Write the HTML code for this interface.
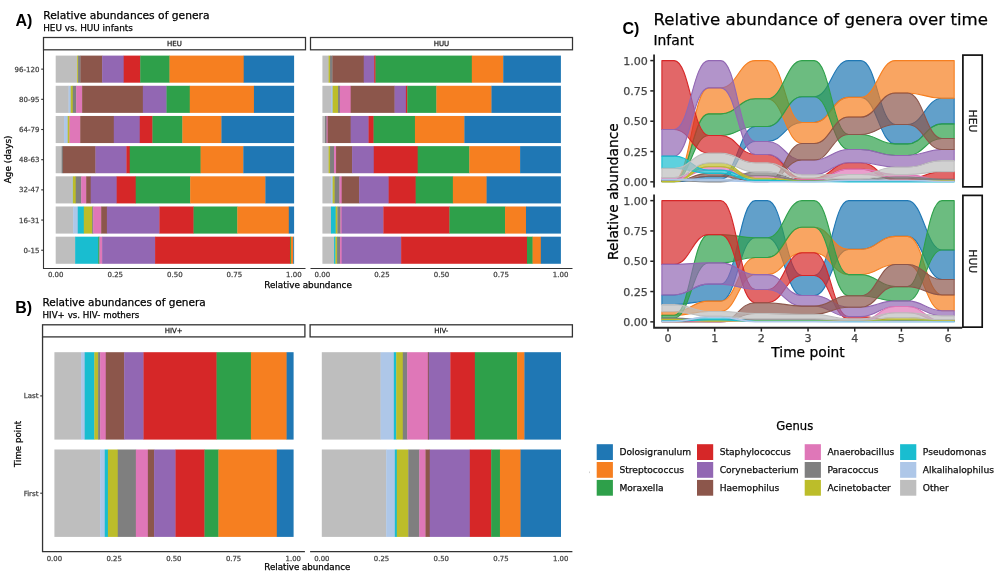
<!DOCTYPE html>
<html lang="en">
<head>
<meta charset="utf-8">
<title>Relative abundances of genera</title>
<style>
html,body{margin:0;padding:0;background:#fff;}
body{width:1000px;height:578px;overflow:hidden;}
svg{display:block;font-family:"DejaVu Sans", "Liberation Sans", sans-serif;will-change:transform;}
svg text{font-family:"DejaVu Sans", "Liberation Sans", sans-serif;}
</style>
</head>
<body>
<svg width="1000" height="578" viewBox="0 0 1000 578">
<rect x="0" y="0" width="1000" height="578" fill="#ffffff"/>
<g id="panelA">
<text x="15.4" y="25.5" font-size="16" text-anchor="start" font-weight="bold" fill="#000" style="font-family:&quot;Liberation Sans&quot;, Arial, Helvetica, sans-serif">A)</text>
<text x="43.2" y="18.7" font-size="10.7" text-anchor="start" font-weight="normal" fill="#000" stroke="#000" stroke-width="0.25">Relative abundances of genera</text>
<text x="43.2" y="31.0" font-size="8.85" text-anchor="start" font-weight="normal" fill="#000" stroke="#000" stroke-width="0.25">HEU vs. HUU infants</text>
<rect x="43.5" y="37.5" width="262.00" height="12.30" fill="#fff" stroke="#333333" stroke-width="1.25"/>
<text x="174.5" y="46.17" font-size="7.0" text-anchor="middle" font-weight="normal" fill="#1a1a1a" stroke="#1a1a1a" stroke-width="0.25">HEU</text>
<rect x="310.5" y="37.5" width="262.00" height="12.30" fill="#fff" stroke="#333333" stroke-width="1.25"/>
<text x="441.5" y="46.17" font-size="7.0" text-anchor="middle" font-weight="normal" fill="#1a1a1a" stroke="#1a1a1a" stroke-width="0.25">HUU</text>
<path d="M43.5 49.8V268.5H305.5M310.5 268.5H572.5" fill="none" stroke="#333333" stroke-width="1.1"/>
<rect x="55.70" y="55.60" width="21.73" height="27.10" fill="#bebebe"/>
<rect x="77.13" y="55.60" width="1.25" height="27.10" fill="#bcbd2a"/>
<rect x="78.08" y="55.60" width="2.68" height="27.10" fill="#7f7f7f"/>
<rect x="80.46" y="55.60" width="21.97" height="27.10" fill="#8c564b"/>
<rect x="102.13" y="55.60" width="21.85" height="27.10" fill="#9267b3"/>
<rect x="123.68" y="55.60" width="16.85" height="27.10" fill="#d62728"/>
<rect x="140.23" y="55.60" width="29.59" height="27.10" fill="#2ea04a"/>
<rect x="169.51" y="55.60" width="74.49" height="27.10" fill="#f67f20"/>
<rect x="243.70" y="55.60" width="50.40" height="27.10" fill="#1f77b4"/>
<rect x="55.70" y="85.78" width="13.16" height="27.10" fill="#bebebe"/>
<rect x="68.56" y="85.78" width="2.44" height="27.10" fill="#aec7e8"/>
<rect x="70.70" y="85.78" width="2.35" height="27.10" fill="#bcbd2a"/>
<rect x="72.75" y="85.78" width="3.73" height="27.10" fill="#7f7f7f"/>
<rect x="76.18" y="85.78" width="6.25" height="27.10" fill="#df77b8"/>
<rect x="82.13" y="85.78" width="61.02" height="27.10" fill="#8c564b"/>
<rect x="142.84" y="85.78" width="23.97" height="27.10" fill="#9267b3"/>
<rect x="166.51" y="85.78" width="23.54" height="27.10" fill="#2ea04a"/>
<rect x="189.75" y="85.78" width="64.49" height="27.10" fill="#f67f20"/>
<rect x="253.94" y="85.78" width="40.16" height="27.10" fill="#1f77b4"/>
<rect x="55.70" y="115.96" width="8.63" height="27.10" fill="#bebebe"/>
<rect x="64.03" y="115.96" width="3.99" height="27.10" fill="#aec7e8"/>
<rect x="67.72" y="115.96" width="2.09" height="27.10" fill="#bcbd2a"/>
<rect x="69.51" y="115.96" width="11.01" height="27.10" fill="#df77b8"/>
<rect x="80.22" y="115.96" width="33.87" height="27.10" fill="#8c564b"/>
<rect x="113.80" y="115.96" width="26.25" height="27.10" fill="#9267b3"/>
<rect x="139.75" y="115.96" width="13.01" height="27.10" fill="#d62728"/>
<rect x="152.46" y="115.96" width="30.21" height="27.10" fill="#2ea04a"/>
<rect x="182.37" y="115.96" width="39.35" height="27.10" fill="#f67f20"/>
<rect x="221.42" y="115.96" width="72.68" height="27.10" fill="#1f77b4"/>
<rect x="55.70" y="146.14" width="6.25" height="27.10" fill="#bebebe"/>
<rect x="61.65" y="146.14" width="1.49" height="27.10" fill="#7f7f7f"/>
<rect x="62.84" y="146.14" width="32.92" height="27.10" fill="#8c564b"/>
<rect x="95.46" y="146.14" width="31.25" height="27.10" fill="#9267b3"/>
<rect x="126.42" y="146.14" width="3.63" height="27.10" fill="#d62728"/>
<rect x="129.75" y="146.14" width="71.16" height="27.10" fill="#2ea04a"/>
<rect x="200.61" y="146.14" width="43.02" height="27.10" fill="#f67f20"/>
<rect x="243.32" y="146.14" width="50.78" height="27.10" fill="#1f77b4"/>
<rect x="55.70" y="176.32" width="16.35" height="27.10" fill="#bebebe"/>
<rect x="71.75" y="176.32" width="1.30" height="27.10" fill="#aec7e8"/>
<rect x="72.75" y="176.32" width="3.25" height="27.10" fill="#bcbd2a"/>
<rect x="75.70" y="176.32" width="5.78" height="27.10" fill="#7f7f7f"/>
<rect x="81.18" y="176.32" width="5.30" height="27.10" fill="#df77b8"/>
<rect x="86.18" y="176.32" width="4.82" height="27.10" fill="#8c564b"/>
<rect x="90.70" y="176.32" width="26.25" height="27.10" fill="#9267b3"/>
<rect x="116.65" y="176.32" width="19.35" height="27.10" fill="#d62728"/>
<rect x="135.70" y="176.32" width="54.78" height="27.10" fill="#2ea04a"/>
<rect x="190.18" y="176.32" width="75.49" height="27.10" fill="#f67f20"/>
<rect x="265.37" y="176.32" width="28.73" height="27.10" fill="#1f77b4"/>
<rect x="55.70" y="206.50" width="17.75" height="27.10" fill="#bebebe"/>
<rect x="73.15" y="206.50" width="4.90" height="27.10" fill="#aec7e8"/>
<rect x="77.75" y="206.50" width="6.35" height="27.10" fill="#19bdd0"/>
<rect x="83.80" y="206.50" width="8.63" height="27.10" fill="#bcbd2a"/>
<rect x="92.13" y="206.50" width="1.37" height="27.10" fill="#7f7f7f"/>
<rect x="93.20" y="206.50" width="8.28" height="27.10" fill="#df77b8"/>
<rect x="101.18" y="206.50" width="6.01" height="27.10" fill="#8c564b"/>
<rect x="106.89" y="206.50" width="52.80" height="27.10" fill="#9267b3"/>
<rect x="159.39" y="206.50" width="34.47" height="27.10" fill="#d62728"/>
<rect x="193.56" y="206.50" width="44.04" height="27.10" fill="#2ea04a"/>
<rect x="237.30" y="206.50" width="51.80" height="27.10" fill="#f67f20"/>
<rect x="288.80" y="206.50" width="5.30" height="27.10" fill="#1f77b4"/>
<rect x="55.70" y="236.68" width="19.75" height="27.10" fill="#bebebe"/>
<rect x="75.15" y="236.68" width="23.35" height="27.10" fill="#19bdd0"/>
<rect x="98.20" y="236.68" width="1.51" height="27.10" fill="#2ea04a"/>
<rect x="99.42" y="236.68" width="3.01" height="27.10" fill="#df77b8"/>
<rect x="102.13" y="236.68" width="53.25" height="27.10" fill="#9267b3"/>
<rect x="155.08" y="236.68" width="135.21" height="27.10" fill="#d62728"/>
<rect x="289.99" y="236.68" width="1.13" height="27.10" fill="#2ea04a"/>
<rect x="290.82" y="236.68" width="2.70" height="27.10" fill="#f67f20"/>
<rect x="293.23" y="236.68" width="0.87" height="27.10" fill="#1f77b4"/>
<rect x="322.40" y="55.60" width="6.49" height="27.10" fill="#bebebe"/>
<rect x="328.59" y="55.60" width="1.73" height="27.10" fill="#bcbd2a"/>
<rect x="330.02" y="55.60" width="2.68" height="27.10" fill="#7f7f7f"/>
<rect x="332.40" y="55.60" width="31.62" height="27.10" fill="#8c564b"/>
<rect x="363.73" y="55.60" width="10.73" height="27.10" fill="#9267b3"/>
<rect x="374.16" y="55.60" width="1.66" height="27.10" fill="#d62728"/>
<rect x="375.52" y="55.60" width="96.60" height="27.10" fill="#2ea04a"/>
<rect x="471.82" y="55.60" width="31.72" height="27.10" fill="#f67f20"/>
<rect x="503.24" y="55.60" width="57.66" height="27.10" fill="#1f77b4"/>
<rect x="322.40" y="85.78" width="8.88" height="27.10" fill="#bebebe"/>
<rect x="330.98" y="85.78" width="1.97" height="27.10" fill="#aec7e8"/>
<rect x="332.64" y="85.78" width="5.71" height="27.10" fill="#bcbd2a"/>
<rect x="338.05" y="85.78" width="2.11" height="27.10" fill="#7f7f7f"/>
<rect x="339.86" y="85.78" width="11.11" height="27.10" fill="#df77b8"/>
<rect x="350.67" y="85.78" width="44.20" height="27.10" fill="#8c564b"/>
<rect x="394.57" y="85.78" width="11.61" height="27.10" fill="#9267b3"/>
<rect x="405.89" y="85.78" width="1.73" height="27.10" fill="#d62728"/>
<rect x="407.32" y="85.78" width="29.36" height="27.10" fill="#2ea04a"/>
<rect x="436.38" y="85.78" width="55.40" height="27.10" fill="#f67f20"/>
<rect x="491.47" y="85.78" width="69.43" height="27.10" fill="#1f77b4"/>
<rect x="322.40" y="115.96" width="2.92" height="27.10" fill="#bebebe"/>
<rect x="325.02" y="115.96" width="1.90" height="27.10" fill="#7f7f7f"/>
<rect x="326.62" y="115.96" width="1.32" height="27.10" fill="#df77b8"/>
<rect x="327.64" y="115.96" width="23.33" height="27.10" fill="#8c564b"/>
<rect x="350.67" y="115.96" width="18.17" height="27.10" fill="#9267b3"/>
<rect x="368.54" y="115.96" width="5.33" height="27.10" fill="#d62728"/>
<rect x="373.57" y="115.96" width="41.68" height="27.10" fill="#2ea04a"/>
<rect x="414.94" y="115.96" width="49.73" height="27.10" fill="#f67f20"/>
<rect x="464.37" y="115.96" width="96.53" height="27.10" fill="#1f77b4"/>
<rect x="322.40" y="146.14" width="6.49" height="27.10" fill="#bebebe"/>
<rect x="328.59" y="146.14" width="1.73" height="27.10" fill="#bcbd2a"/>
<rect x="330.02" y="146.14" width="4.30" height="27.10" fill="#7f7f7f"/>
<rect x="334.02" y="146.14" width="2.32" height="27.10" fill="#df77b8"/>
<rect x="336.05" y="146.14" width="16.33" height="27.10" fill="#8c564b"/>
<rect x="352.08" y="146.14" width="21.98" height="27.10" fill="#9267b3"/>
<rect x="373.76" y="146.14" width="44.22" height="27.10" fill="#d62728"/>
<rect x="417.68" y="146.14" width="51.94" height="27.10" fill="#2ea04a"/>
<rect x="469.32" y="146.14" width="51.08" height="27.10" fill="#f67f20"/>
<rect x="520.11" y="146.14" width="40.79" height="27.10" fill="#1f77b4"/>
<rect x="322.40" y="176.32" width="8.88" height="27.10" fill="#bebebe"/>
<rect x="330.98" y="176.32" width="1.97" height="27.10" fill="#aec7e8"/>
<rect x="332.64" y="176.32" width="2.30" height="27.10" fill="#bcbd2a"/>
<rect x="334.64" y="176.32" width="5.11" height="27.10" fill="#7f7f7f"/>
<rect x="339.46" y="176.32" width="2.54" height="27.10" fill="#df77b8"/>
<rect x="341.69" y="176.32" width="17.69" height="27.10" fill="#8c564b"/>
<rect x="359.08" y="176.32" width="29.84" height="27.10" fill="#9267b3"/>
<rect x="388.62" y="176.32" width="27.34" height="27.10" fill="#d62728"/>
<rect x="415.66" y="176.32" width="37.51" height="27.10" fill="#2ea04a"/>
<rect x="452.86" y="176.32" width="34.03" height="27.10" fill="#f67f20"/>
<rect x="486.59" y="176.32" width="74.31" height="27.10" fill="#1f77b4"/>
<rect x="322.40" y="206.50" width="8.88" height="27.10" fill="#bebebe"/>
<rect x="330.98" y="206.50" width="4.97" height="27.10" fill="#19bdd0"/>
<rect x="335.64" y="206.50" width="2.06" height="27.10" fill="#bcbd2a"/>
<rect x="337.41" y="206.50" width="3.35" height="27.10" fill="#7f7f7f"/>
<rect x="340.46" y="206.50" width="1.54" height="27.10" fill="#df77b8"/>
<rect x="341.69" y="206.50" width="41.98" height="27.10" fill="#9267b3"/>
<rect x="383.38" y="206.50" width="66.38" height="27.10" fill="#d62728"/>
<rect x="449.46" y="206.50" width="55.87" height="27.10" fill="#2ea04a"/>
<rect x="505.03" y="206.50" width="21.24" height="27.10" fill="#f67f20"/>
<rect x="525.97" y="206.50" width="34.93" height="27.10" fill="#1f77b4"/>
<rect x="322.40" y="236.68" width="11.97" height="27.10" fill="#bebebe"/>
<rect x="334.07" y="236.68" width="1.66" height="27.10" fill="#19bdd0"/>
<rect x="335.43" y="236.68" width="1.92" height="27.10" fill="#bcbd2a"/>
<rect x="337.05" y="236.68" width="3.28" height="27.10" fill="#7f7f7f"/>
<rect x="340.03" y="236.68" width="1.97" height="27.10" fill="#df77b8"/>
<rect x="341.69" y="236.68" width="59.73" height="27.10" fill="#9267b3"/>
<rect x="401.13" y="236.68" width="126.14" height="27.10" fill="#d62728"/>
<rect x="526.97" y="236.68" width="5.92" height="27.10" fill="#2ea04a"/>
<rect x="532.59" y="236.68" width="8.54" height="27.10" fill="#f67f20"/>
<rect x="540.83" y="236.68" width="20.07" height="27.10" fill="#1f77b4"/>
<path d="M41.2 69.15H43.5" stroke="#333333" stroke-width="1.1"/>
<text x="39.4" y="71.7" font-size="7.0" text-anchor="end" font-weight="normal" fill="#454545" stroke="#454545" stroke-width="0.25">96-120</text>
<path d="M41.2 99.33H43.5" stroke="#333333" stroke-width="1.1"/>
<text x="39.4" y="101.88" font-size="7.0" text-anchor="end" font-weight="normal" fill="#454545" stroke="#454545" stroke-width="0.25">80-95</text>
<path d="M41.2 129.51H43.5" stroke="#333333" stroke-width="1.1"/>
<text x="39.4" y="132.06" font-size="7.0" text-anchor="end" font-weight="normal" fill="#454545" stroke="#454545" stroke-width="0.25">64-79</text>
<path d="M41.2 159.69H43.5" stroke="#333333" stroke-width="1.1"/>
<text x="39.4" y="162.24" font-size="7.0" text-anchor="end" font-weight="normal" fill="#454545" stroke="#454545" stroke-width="0.25">48-63</text>
<path d="M41.2 189.87H43.5" stroke="#333333" stroke-width="1.1"/>
<text x="39.4" y="192.42" font-size="7.0" text-anchor="end" font-weight="normal" fill="#454545" stroke="#454545" stroke-width="0.25">32-47</text>
<path d="M41.2 220.05H43.5" stroke="#333333" stroke-width="1.1"/>
<text x="39.4" y="222.6" font-size="7.0" text-anchor="end" font-weight="normal" fill="#454545" stroke="#454545" stroke-width="0.25">16-31</text>
<path d="M41.2 250.23H43.5" stroke="#333333" stroke-width="1.1"/>
<text x="39.4" y="252.78" font-size="7.0" text-anchor="end" font-weight="normal" fill="#454545" stroke="#454545" stroke-width="0.25">0-15</text>
<text x="55.7" y="277.3" font-size="7.0" text-anchor="middle" font-weight="normal" fill="#454545" stroke="#454545" stroke-width="0.25">0.00</text>
<text x="115.25" y="277.3" font-size="7.0" text-anchor="middle" font-weight="normal" fill="#454545" stroke="#454545" stroke-width="0.25">0.25</text>
<text x="174.8" y="277.3" font-size="7.0" text-anchor="middle" font-weight="normal" fill="#454545" stroke="#454545" stroke-width="0.25">0.50</text>
<text x="234.35" y="277.3" font-size="7.0" text-anchor="middle" font-weight="normal" fill="#454545" stroke="#454545" stroke-width="0.25">0.75</text>
<text x="293.9" y="277.3" font-size="7.0" text-anchor="middle" font-weight="normal" fill="#454545" stroke="#454545" stroke-width="0.25">1.00</text>
<text x="322.4" y="277.3" font-size="7.0" text-anchor="middle" font-weight="normal" fill="#454545" stroke="#454545" stroke-width="0.25">0.00</text>
<text x="381.95" y="277.3" font-size="7.0" text-anchor="middle" font-weight="normal" fill="#454545" stroke="#454545" stroke-width="0.25">0.25</text>
<text x="441.5" y="277.3" font-size="7.0" text-anchor="middle" font-weight="normal" fill="#454545" stroke="#454545" stroke-width="0.25">0.50</text>
<text x="501.05" y="277.3" font-size="7.0" text-anchor="middle" font-weight="normal" fill="#454545" stroke="#454545" stroke-width="0.25">0.75</text>
<text x="560.6" y="277.3" font-size="7.0" text-anchor="middle" font-weight="normal" fill="#454545" stroke="#454545" stroke-width="0.25">1.00</text>
<text x="308" y="287.7" font-size="8.85" text-anchor="middle" font-weight="normal" fill="#000" stroke="#000" stroke-width="0.25">Relative abundance</text>
<text x="10.9" y="159.4" font-size="8.85" text-anchor="middle" font-weight="normal" fill="#000" stroke="#000" stroke-width="0.25" transform="rotate(-90 10.9 159.4)">Age (days)</text>
</g>
<g id="panelB">
<text x="15.3" y="313.0" font-size="16" text-anchor="start" font-weight="bold" fill="#000" style="font-family:&quot;Liberation Sans&quot;, Arial, Helvetica, sans-serif">B)</text>
<text x="42.4" y="305.8" font-size="10.5" text-anchor="start" font-weight="normal" fill="#000" stroke="#000" stroke-width="0.25">Relative abundances of genera</text>
<text x="42.6" y="318.4" font-size="8.68" text-anchor="start" font-weight="normal" fill="#000" stroke="#000" stroke-width="0.25">HIV+ vs. HIV- mothers</text>
<rect x="42.55" y="324.8" width="262.35" height="12.10" fill="#fff" stroke="#333333" stroke-width="1.3"/>
<text x="173.725" y="333.37" font-size="7.0" text-anchor="middle" font-weight="normal" fill="#1a1a1a" stroke="#1a1a1a" stroke-width="0.25">HIV+</text>
<rect x="310.1" y="324.8" width="262.30" height="12.10" fill="#fff" stroke="#333333" stroke-width="1.3"/>
<text x="441.25" y="333.37" font-size="7.0" text-anchor="middle" font-weight="normal" fill="#1a1a1a" stroke="#1a1a1a" stroke-width="0.25">HIV-</text>
<path d="M42.55 336.9V551.6H304.9M310.1 551.6H572.4" fill="none" stroke="#333333" stroke-width="1.3"/>
<rect x="54.40" y="352.20" width="26.99" height="87.40" fill="#bebebe"/>
<rect x="81.09" y="352.20" width="3.91" height="87.40" fill="#aec7e8"/>
<rect x="84.69" y="352.20" width="9.90" height="87.40" fill="#19bdd0"/>
<rect x="94.30" y="352.20" width="4.12" height="87.40" fill="#bcbd2a"/>
<rect x="98.12" y="352.20" width="2.33" height="87.40" fill="#7f7f7f"/>
<rect x="100.15" y="352.20" width="5.91" height="87.40" fill="#df77b8"/>
<rect x="105.76" y="352.20" width="18.70" height="87.40" fill="#8c564b"/>
<rect x="124.16" y="352.20" width="19.65" height="87.40" fill="#9267b3"/>
<rect x="143.51" y="352.20" width="73.36" height="87.40" fill="#d62728"/>
<rect x="216.57" y="352.20" width="34.65" height="87.40" fill="#2ea04a"/>
<rect x="250.92" y="352.20" width="35.99" height="87.40" fill="#f67f20"/>
<rect x="286.61" y="352.20" width="6.99" height="87.40" fill="#1f77b4"/>
<rect x="54.40" y="449.50" width="46.05" height="87.40" fill="#bebebe"/>
<rect x="100.15" y="449.50" width="4.91" height="87.40" fill="#aec7e8"/>
<rect x="104.76" y="449.50" width="3.45" height="87.40" fill="#19bdd0"/>
<rect x="107.91" y="449.50" width="10.17" height="87.40" fill="#bcbd2a"/>
<rect x="117.78" y="449.50" width="18.38" height="87.40" fill="#7f7f7f"/>
<rect x="135.86" y="449.50" width="12.32" height="87.40" fill="#df77b8"/>
<rect x="147.88" y="449.50" width="6.51" height="87.40" fill="#8c564b"/>
<rect x="154.09" y="449.50" width="21.71" height="87.40" fill="#9267b3"/>
<rect x="175.50" y="449.50" width="29.30" height="87.40" fill="#d62728"/>
<rect x="204.50" y="449.50" width="14.25" height="87.40" fill="#2ea04a"/>
<rect x="218.45" y="449.50" width="58.66" height="87.40" fill="#f67f20"/>
<rect x="276.82" y="449.50" width="16.78" height="87.40" fill="#1f77b4"/>
<rect x="321.80" y="352.20" width="59.07" height="87.40" fill="#bebebe"/>
<rect x="380.57" y="352.20" width="13.56" height="87.40" fill="#aec7e8"/>
<rect x="393.83" y="352.20" width="2.69" height="87.40" fill="#19bdd0"/>
<rect x="396.22" y="352.20" width="6.87" height="87.40" fill="#bcbd2a"/>
<rect x="402.79" y="352.20" width="4.77" height="87.40" fill="#7f7f7f"/>
<rect x="407.25" y="352.20" width="20.92" height="87.40" fill="#df77b8"/>
<rect x="427.87" y="352.20" width="1.16" height="87.40" fill="#8c564b"/>
<rect x="428.73" y="352.20" width="21.90" height="87.40" fill="#9267b3"/>
<rect x="450.33" y="352.20" width="24.81" height="87.40" fill="#d62728"/>
<rect x="474.84" y="352.20" width="42.61" height="87.40" fill="#2ea04a"/>
<rect x="517.15" y="352.20" width="7.54" height="87.40" fill="#f67f20"/>
<rect x="524.39" y="352.20" width="36.61" height="87.40" fill="#1f77b4"/>
<rect x="321.80" y="449.50" width="64.68" height="87.40" fill="#bebebe"/>
<rect x="386.18" y="449.50" width="8.95" height="87.40" fill="#aec7e8"/>
<rect x="394.83" y="449.50" width="2.28" height="87.40" fill="#19bdd0"/>
<rect x="396.81" y="449.50" width="11.77" height="87.40" fill="#bcbd2a"/>
<rect x="408.28" y="449.50" width="11.29" height="87.40" fill="#7f7f7f"/>
<rect x="419.27" y="449.50" width="6.51" height="87.40" fill="#df77b8"/>
<rect x="425.48" y="449.50" width="4.55" height="87.40" fill="#8c564b"/>
<rect x="429.74" y="449.50" width="40.39" height="87.40" fill="#9267b3"/>
<rect x="469.82" y="449.50" width="21.66" height="87.40" fill="#d62728"/>
<rect x="491.18" y="449.50" width="9.04" height="87.40" fill="#2ea04a"/>
<rect x="499.92" y="449.50" width="20.94" height="87.40" fill="#f67f20"/>
<rect x="520.56" y="449.50" width="40.44" height="87.40" fill="#1f77b4"/>
<path d="M40.2 395.90H42.5" stroke="#333333" stroke-width="1.1"/>
<text x="38.4" y="398.45" font-size="7.0" text-anchor="end" font-weight="normal" fill="#454545" stroke="#454545" stroke-width="0.25">Last</text>
<path d="M40.2 493.20H42.5" stroke="#333333" stroke-width="1.1"/>
<text x="38.4" y="495.75" font-size="7.0" text-anchor="end" font-weight="normal" fill="#454545" stroke="#454545" stroke-width="0.25">First</text>
<text x="54.4" y="560.6" font-size="6.9" text-anchor="middle" font-weight="normal" fill="#454545" stroke="#454545" stroke-width="0.25">0.00</text>
<text x="114.12" y="560.6" font-size="6.9" text-anchor="middle" font-weight="normal" fill="#454545" stroke="#454545" stroke-width="0.25">0.25</text>
<text x="173.84" y="560.6" font-size="6.9" text-anchor="middle" font-weight="normal" fill="#454545" stroke="#454545" stroke-width="0.25">0.50</text>
<text x="233.56" y="560.6" font-size="6.9" text-anchor="middle" font-weight="normal" fill="#454545" stroke="#454545" stroke-width="0.25">0.75</text>
<text x="293.28" y="560.6" font-size="6.9" text-anchor="middle" font-weight="normal" fill="#454545" stroke="#454545" stroke-width="0.25">1.00</text>
<text x="321.8" y="560.6" font-size="6.9" text-anchor="middle" font-weight="normal" fill="#454545" stroke="#454545" stroke-width="0.25">0.00</text>
<text x="381.52" y="560.6" font-size="6.9" text-anchor="middle" font-weight="normal" fill="#454545" stroke="#454545" stroke-width="0.25">0.25</text>
<text x="441.24" y="560.6" font-size="6.9" text-anchor="middle" font-weight="normal" fill="#454545" stroke="#454545" stroke-width="0.25">0.50</text>
<text x="500.96" y="560.6" font-size="6.9" text-anchor="middle" font-weight="normal" fill="#454545" stroke="#454545" stroke-width="0.25">0.75</text>
<text x="560.68" y="560.6" font-size="6.9" text-anchor="middle" font-weight="normal" fill="#454545" stroke="#454545" stroke-width="0.25">1.00</text>
<text x="307.3" y="570.3" font-size="8.68" text-anchor="middle" font-weight="normal" fill="#000" stroke="#000" stroke-width="0.25">Relative abundance</text>
<text x="20.6" y="444" font-size="8.68" text-anchor="middle" font-weight="normal" fill="#000" stroke="#000" stroke-width="0.25" transform="rotate(-90 20.6 444)">Time point</text>
</g>
<g id="panelC">
<text x="622.4" y="33.6" font-size="16" text-anchor="start" font-weight="bold" fill="#000" style="font-family:&quot;Liberation Sans&quot;, Arial, Helvetica, sans-serif">C)</text>
<text x="653.4" y="24.9" font-size="16.6" text-anchor="start" font-weight="normal" fill="#000" stroke="#000" stroke-width="0.25">Relative abundance of genera over time</text>
<text x="653.4" y="45.1" font-size="13.9" text-anchor="start" font-weight="normal" fill="#000" stroke="#000" stroke-width="0.25">Infant</text>
<path d="M661.90 181.37H674.10C689.96 181.37 692.72 176.27 708.58 176.27H720.78C736.64 176.27 739.40 126.44 755.26 126.44H767.46C783.32 126.44 786.08 96.73 801.94 96.73H814.14C830.00 96.73 832.76 60.60 848.62 60.60H860.82C876.68 60.60 879.44 124.50 895.30 124.50H907.50C923.36 124.50 926.12 98.31 941.98 98.31H954.18V123.89H941.98C926.12 123.89 923.36 143.90 907.50 143.90H895.30C879.44 143.90 876.68 97.34 860.82 97.34H848.62C832.76 97.34 830.00 122.44 814.14 122.44H801.94C786.08 122.44 783.32 141.47 767.46 141.47H755.26C739.40 141.47 736.64 179.06 720.78 179.06H708.58C692.72 179.06 689.96 181.61 674.10 181.61H661.90Z" fill="#1f77b4" fill-opacity="0.7" stroke="#1f77b4" stroke-opacity="1" stroke-width="1.1" stroke-linejoin="round"/>
<path d="M661.90 180.40H674.10C689.96 180.40 692.72 87.88 708.58 87.88H720.78C736.64 87.88 739.40 60.60 755.26 60.60H767.46C783.32 60.60 786.08 122.44 801.94 122.44H814.14C830.00 122.44 832.76 97.34 848.62 97.34H860.82C876.68 97.34 879.44 60.60 895.30 60.60H907.50C923.36 60.60 926.12 60.60 941.98 60.60H954.18V98.31H941.98C926.12 98.31 923.36 92.97 907.50 92.97H895.30C879.44 92.97 876.68 116.98 860.82 116.98H848.62C832.76 116.98 830.00 143.53 814.14 143.53H801.94C786.08 143.53 783.32 98.79 767.46 98.79H755.26C739.40 98.79 736.64 113.83 720.78 113.83H708.58C692.72 113.83 689.96 180.76 674.10 180.76H661.90Z" fill="#f67f20" fill-opacity="0.7" stroke="#f67f20" stroke-opacity="1" stroke-width="1.1" stroke-linejoin="round"/>
<path d="M661.90 180.76H674.10C689.96 180.76 692.72 113.83 708.58 113.83H720.78C736.64 113.83 739.40 98.79 755.26 98.79H767.46C783.32 98.79 786.08 60.60 801.94 60.60H814.14C830.00 60.60 832.76 134.56 848.62 134.56H860.82C876.68 134.56 879.44 143.90 895.30 143.90H907.50C923.36 143.90 926.12 123.89 941.98 123.89H954.18V138.44H941.98C926.12 138.44 923.36 155.54 907.50 155.54H895.30C879.44 155.54 876.68 149.48 860.82 149.48H848.62C832.76 149.48 830.00 96.73 814.14 96.73H801.94C786.08 96.73 783.32 126.44 767.46 126.44H755.26C739.40 126.44 736.64 135.53 720.78 135.53H708.58C692.72 135.53 689.96 181.12 674.10 181.12H661.90Z" fill="#2ea04a" fill-opacity="0.7" stroke="#2ea04a" stroke-opacity="1" stroke-width="1.1" stroke-linejoin="round"/>
<path d="M661.90 60.60H674.10C689.96 60.60 692.72 135.53 708.58 135.53H720.78C736.64 135.53 739.40 154.57 755.26 154.57H767.46C783.32 154.57 786.08 178.21 801.94 178.21H814.14C830.00 178.21 832.76 162.81 848.62 162.81H860.82C876.68 162.81 879.44 178.82 895.30 178.82H907.50C923.36 178.82 926.12 171.66 941.98 171.66H954.18V179.30H941.98C926.12 179.30 923.36 180.03 907.50 180.03H895.30C879.44 180.03 876.68 169.12 860.82 169.12H848.62C832.76 169.12 830.00 179.79 814.14 179.79H801.94C786.08 179.79 783.32 162.81 767.46 162.81H755.26C739.40 162.81 736.64 153.11 720.78 153.11H708.58C692.72 153.11 689.96 129.47 674.10 129.47H661.90Z" fill="#d62728" fill-opacity="0.7" stroke="#d62728" stroke-opacity="1" stroke-width="1.1" stroke-linejoin="round"/>
<path d="M661.90 129.47H674.10C689.96 129.47 692.72 60.60 708.58 60.60H720.78C736.64 60.60 739.40 141.47 755.26 141.47H767.46C783.32 141.47 786.08 160.03 801.94 160.03H814.14C830.00 160.03 832.76 149.48 848.62 149.48H860.82C876.68 149.48 879.44 155.54 895.30 155.54H907.50C923.36 155.54 926.12 149.48 941.98 149.48H954.18V160.63H941.98C926.12 160.63 923.36 167.06 907.50 167.06H895.30C879.44 167.06 876.68 162.81 860.82 162.81H848.62C832.76 162.81 830.00 174.82 814.14 174.82H801.94C786.08 174.82 783.32 154.57 767.46 154.57H755.26C739.40 154.57 736.64 87.88 720.78 87.88H708.58C692.72 87.88 689.96 156.14 674.10 156.14H661.90Z" fill="#9267b3" fill-opacity="0.7" stroke="#9267b3" stroke-opacity="1" stroke-width="1.1" stroke-linejoin="round"/>
<path d="M661.90 181.12H674.10C689.96 181.12 692.72 173.36 708.58 173.36H720.78C736.64 173.36 739.40 181.36 755.26 181.36H767.46C783.32 181.36 786.08 143.53 801.94 143.53H814.14C830.00 143.53 832.76 116.98 848.62 116.98H860.82C876.68 116.98 879.44 92.97 895.30 92.97H907.50C923.36 92.97 926.12 138.44 941.98 138.44H954.18V149.48H941.98C926.12 149.48 923.36 124.50 907.50 124.50H895.30C879.44 124.50 876.68 134.56 860.82 134.56H848.62C832.76 134.56 830.00 160.03 814.14 160.03H801.94C786.08 160.03 783.32 181.61 767.46 181.61H755.26C739.40 181.61 736.64 176.27 720.78 176.27H708.58C692.72 176.27 689.96 181.37 674.10 181.37H661.90Z" fill="#8c564b" fill-opacity="0.7" stroke="#8c564b" stroke-opacity="1" stroke-width="1.1" stroke-linejoin="round"/>
<path d="M661.90 177.61H674.10C689.96 177.61 692.72 166.69 708.58 166.69H720.78C736.64 166.69 739.40 175.79 755.26 175.79H767.46C783.32 175.79 786.08 179.79 801.94 179.79H814.14C830.00 179.79 832.76 169.12 848.62 169.12H860.82C876.68 169.12 879.44 174.58 895.30 174.58H907.50C923.36 174.58 926.12 180.15 941.98 180.15H954.18V180.76H941.98C926.12 180.76 923.36 177.00 907.50 177.00H895.30C879.44 177.00 876.68 174.57 860.82 174.57H848.62C832.76 174.57 830.00 180.52 814.14 180.52H801.94C786.08 180.52 783.32 178.21 767.46 178.21H755.26C739.40 178.21 736.64 170.09 720.78 170.09H708.58C692.72 170.09 689.96 179.18 674.10 179.18H661.90Z" fill="#df77b8" fill-opacity="0.7" stroke="#df77b8" stroke-opacity="1" stroke-width="1.1" stroke-linejoin="round"/>
<path d="M661.90 179.91H674.10C689.96 179.91 692.72 181.00 708.58 181.00H720.78C736.64 181.00 739.40 172.15 755.26 172.15H767.46C783.32 172.15 786.08 180.52 801.94 180.52H814.14C830.00 180.52 832.76 179.06 848.62 179.06H860.82C876.68 179.06 879.44 177.00 895.30 177.00H907.50C923.36 177.00 926.12 179.30 941.98 179.30H954.18V180.15H941.98C926.12 180.15 923.36 178.82 907.50 178.82H895.30C879.44 178.82 876.68 180.03 860.82 180.03H848.62C832.76 180.03 830.00 181.00 814.14 181.00H801.94C786.08 181.00 783.32 175.79 767.46 175.79H755.26C739.40 175.79 736.64 181.85 720.78 181.85H708.58C692.72 181.85 689.96 180.40 674.10 180.40H661.90Z" fill="#7f7f7f" fill-opacity="0.7" stroke="#7f7f7f" stroke-opacity="1" stroke-width="1.1" stroke-linejoin="round"/>
<path d="M661.90 181.61H674.10C689.96 181.61 692.72 162.93 708.58 162.93H720.78C736.64 162.93 739.40 178.21 755.26 178.21H767.46C783.32 178.21 786.08 181.00 801.94 181.00H814.14C830.00 181.00 832.76 180.76 848.62 180.76H860.82C876.68 180.76 879.44 180.76 895.30 180.76H907.50C923.36 180.76 926.12 180.76 941.98 180.76H954.18V181.24H941.98C926.12 181.24 923.36 181.37 907.50 181.37H895.30C879.44 181.37 876.68 181.37 860.82 181.37H848.62C832.76 181.37 830.00 181.37 814.14 181.37H801.94C786.08 181.37 783.32 180.15 767.46 180.15H755.26C739.40 180.15 736.64 166.69 720.78 166.69H708.58C692.72 166.69 689.96 181.85 674.10 181.85H661.90Z" fill="#bcbd2a" fill-opacity="0.7" stroke="#bcbd2a" stroke-opacity="1" stroke-width="1.1" stroke-linejoin="round"/>
<path d="M661.90 156.14H674.10C689.96 156.14 692.72 170.09 708.58 170.09H720.78C736.64 170.09 739.40 180.15 755.26 180.15H767.46C783.32 180.15 786.08 181.37 801.94 181.37H814.14C830.00 181.37 832.76 181.37 848.62 181.37H860.82C876.68 181.37 879.44 181.37 895.30 181.37H907.50C923.36 181.37 926.12 181.61 941.98 181.61H954.18V181.85H941.98C926.12 181.85 923.36 181.85 907.50 181.85H895.30C879.44 181.85 876.68 181.85 860.82 181.85H848.62C832.76 181.85 830.00 181.61 814.14 181.61H801.94C786.08 181.61 783.32 181.36 767.46 181.36H755.26C739.40 181.36 736.64 173.36 720.78 173.36H708.58C692.72 173.36 689.96 168.27 674.10 168.27H661.90Z" fill="#19bdd0" fill-opacity="0.7" stroke="#19bdd0" stroke-opacity="1" stroke-width="1.1" stroke-linejoin="round"/>
<path d="M661.90 179.18H674.10C689.96 179.18 692.72 179.06 708.58 179.06H720.78C736.64 179.06 739.40 181.61 755.26 181.61H767.46C783.32 181.61 786.08 181.61 801.94 181.61H814.14C830.00 181.61 832.76 180.03 848.62 180.03H860.82C876.68 180.03 879.44 180.03 895.30 180.03H907.50C923.36 180.03 926.12 181.24 941.98 181.24H954.18V181.61H941.98C926.12 181.61 923.36 180.76 907.50 180.76H895.30C879.44 180.76 876.68 180.76 860.82 180.76H848.62C832.76 180.76 830.00 181.85 814.14 181.85H801.94C786.08 181.85 783.32 181.85 767.46 181.85H755.26C739.40 181.85 736.64 181.00 720.78 181.00H708.58C692.72 181.00 689.96 179.91 674.10 179.91H661.90Z" fill="#aec7e8" fill-opacity="0.7" stroke="#aec7e8" stroke-opacity="1" stroke-width="1.1" stroke-linejoin="round"/>
<path d="M661.90 168.27H674.10C689.96 168.27 692.72 153.11 708.58 153.11H720.78C736.64 153.11 739.40 162.81 755.26 162.81H767.46C783.32 162.81 786.08 174.82 801.94 174.82H814.14C830.00 174.82 832.76 174.57 848.62 174.57H860.82C876.68 174.57 879.44 167.06 895.30 167.06H907.50C923.36 167.06 926.12 160.63 941.98 160.63H954.18V171.66H941.98C926.12 171.66 923.36 174.58 907.50 174.58H895.30C879.44 174.58 876.68 179.06 860.82 179.06H848.62C832.76 179.06 830.00 178.21 814.14 178.21H801.94C786.08 178.21 783.32 172.15 767.46 172.15H755.26C739.40 172.15 736.64 162.93 720.78 162.93H708.58C692.72 162.93 689.96 177.61 674.10 177.61H661.90Z" fill="#bebebe" fill-opacity="0.7" stroke="#bebebe" stroke-opacity="1" stroke-width="1.1" stroke-linejoin="round"/>
<path d="M661.90 294.94H674.10C689.96 294.94 692.72 284.16 708.58 284.16H720.78C736.64 284.16 739.40 200.65 755.26 200.65H767.46C783.32 200.65 786.08 275.55 801.94 275.55H814.14C830.00 275.55 832.76 200.65 848.62 200.65H860.82C876.68 200.65 879.44 200.65 895.30 200.65H907.50C923.36 200.65 926.12 249.98 941.98 249.98H954.18V279.55H941.98C926.12 279.55 923.36 236.40 907.50 236.40H895.30C879.44 236.40 876.68 249.37 860.82 249.37H848.62C832.76 249.37 830.00 295.55 814.14 295.55H801.94C786.08 295.55 783.32 237.74 767.46 237.74H755.26C739.40 237.74 736.64 301.12 720.78 301.12H708.58C692.72 301.12 689.96 304.64 674.10 304.64H661.90Z" fill="#1f77b4" fill-opacity="0.7" stroke="#1f77b4" stroke-opacity="1" stroke-width="1.1" stroke-linejoin="round"/>
<path d="M661.90 311.79H674.10C689.96 311.79 692.72 301.12 708.58 301.12H720.78C736.64 301.12 739.40 257.49 755.26 257.49H767.46C783.32 257.49 786.08 227.31 801.94 227.31H814.14C830.00 227.31 832.76 249.37 848.62 249.37H860.82C876.68 249.37 879.44 236.40 895.30 236.40H907.50C923.36 236.40 926.12 294.94 941.98 294.94H954.18V310.70H941.98C926.12 310.70 923.36 264.52 907.50 264.52H895.30C879.44 264.52 876.68 274.58 860.82 274.58H848.62C832.76 274.58 830.00 252.77 814.14 252.77H801.94C786.08 252.77 783.32 274.58 767.46 274.58H755.26C739.40 274.58 736.64 311.43 720.78 311.43H708.58C692.72 311.43 689.96 315.31 674.10 315.31H661.90Z" fill="#f67f20" fill-opacity="0.7" stroke="#f67f20" stroke-opacity="1" stroke-width="1.1" stroke-linejoin="round"/>
<path d="M661.90 315.31H674.10C689.96 315.31 692.72 234.59 708.58 234.59H720.78C736.64 234.59 739.40 237.74 755.26 237.74H767.46C783.32 237.74 786.08 200.65 801.94 200.65H814.14C830.00 200.65 832.76 274.58 848.62 274.58H860.82C876.68 274.58 879.44 286.58 895.30 286.58H907.50C923.36 286.58 926.12 200.65 941.98 200.65H954.18V249.98H941.98C926.12 249.98 923.36 300.88 907.50 300.88H895.30C879.44 300.88 876.68 295.79 860.82 295.79H848.62C832.76 295.79 830.00 227.31 814.14 227.31H801.94C786.08 227.31 783.32 257.49 767.46 257.49H755.26C739.40 257.49 736.64 262.83 720.78 262.83H708.58C692.72 262.83 689.96 318.09 674.10 318.09H661.90Z" fill="#2ea04a" fill-opacity="0.7" stroke="#2ea04a" stroke-opacity="1" stroke-width="1.1" stroke-linejoin="round"/>
<path d="M661.90 200.65H674.10C689.96 200.65 692.72 200.65 708.58 200.65H720.78C736.64 200.65 739.40 289.49 755.26 289.49H767.46C783.32 289.49 786.08 252.77 801.94 252.77H814.14C830.00 252.77 832.76 316.64 848.62 316.64H860.82C876.68 316.64 879.44 320.76 895.30 320.76H907.50C923.36 320.76 926.12 321.24 941.98 321.24H954.18V321.49H941.98C926.12 321.49 923.36 321.24 907.50 321.24H895.30C879.44 321.24 876.68 318.82 860.82 318.82H848.62C832.76 318.82 830.00 275.55 814.14 275.55H801.94C786.08 275.55 783.32 302.70 767.46 302.70H755.26C739.40 302.70 736.64 234.59 720.78 234.59H708.58C692.72 234.59 689.96 264.40 674.10 264.40H661.90Z" fill="#d62728" fill-opacity="0.7" stroke="#d62728" stroke-opacity="1" stroke-width="1.1" stroke-linejoin="round"/>
<path d="M661.90 264.40H674.10C689.96 264.40 692.72 262.83 708.58 262.83H720.78C736.64 262.83 739.40 274.58 755.26 274.58H767.46C783.32 274.58 786.08 295.55 801.94 295.55H814.14C830.00 295.55 832.76 307.18 848.62 307.18H860.82C876.68 307.18 879.44 300.88 895.30 300.88H907.50C923.36 300.88 926.12 310.70 941.98 310.70H954.18V315.79H941.98C926.12 315.79 923.36 306.46 907.50 306.46H895.30C879.44 306.46 876.68 316.64 860.82 316.64H848.62C832.76 316.64 830.00 306.09 814.14 306.09H801.94C786.08 306.09 783.32 289.49 767.46 289.49H755.26C739.40 289.49 736.64 284.16 720.78 284.16H708.58C692.72 284.16 689.96 294.94 674.10 294.94H661.90Z" fill="#9267b3" fill-opacity="0.7" stroke="#9267b3" stroke-opacity="1" stroke-width="1.1" stroke-linejoin="round"/>
<path d="M661.90 321.61H674.10C689.96 321.61 692.72 321.61 708.58 321.61H720.78C736.64 321.61 739.40 302.70 755.26 302.70H767.46C783.32 302.70 786.08 306.09 801.94 306.09H814.14C830.00 306.09 832.76 295.79 848.62 295.79H860.82C876.68 295.79 879.44 264.52 895.30 264.52H907.50C923.36 264.52 926.12 279.55 941.98 279.55H954.18V294.94H941.98C926.12 294.94 923.36 286.58 907.50 286.58H895.30C879.44 286.58 876.68 307.18 860.82 307.18H848.62C832.76 307.18 830.00 314.21 814.14 314.21H801.94C786.08 314.21 783.32 313.49 767.46 313.49H755.26C739.40 313.49 736.64 321.85 720.78 321.85H708.58C692.72 321.85 689.96 321.85 674.10 321.85H661.90Z" fill="#8c564b" fill-opacity="0.7" stroke="#8c564b" stroke-opacity="1" stroke-width="1.1" stroke-linejoin="round"/>
<path d="M661.90 320.03H674.10C689.96 320.03 692.72 321.12 708.58 321.12H720.78C736.64 321.12 739.40 319.91 755.26 319.91H767.46C783.32 319.91 786.08 319.91 801.94 319.91H814.14C830.00 319.91 832.76 320.76 848.62 320.76H860.82C876.68 320.76 879.44 306.46 895.30 306.46H907.50C923.36 306.46 926.12 320.88 941.98 320.88H954.18V321.24H941.98C926.12 321.24 923.36 312.76 907.50 312.76H895.30C879.44 312.76 876.68 321.12 860.82 321.12H848.62C832.76 321.12 830.00 320.52 814.14 320.52H801.94C786.08 320.52 783.32 320.52 767.46 320.52H755.26C739.40 320.52 736.64 321.61 720.78 321.61H708.58C692.72 321.61 689.96 320.76 674.10 320.76H661.90Z" fill="#df77b8" fill-opacity="0.7" stroke="#df77b8" stroke-opacity="1" stroke-width="1.1" stroke-linejoin="round"/>
<path d="M661.90 318.09H674.10C689.96 318.09 692.72 319.91 708.58 319.91H720.78C736.64 319.91 739.40 319.06 755.26 319.06H767.46C783.32 319.06 786.08 319.06 801.94 319.06H814.14C830.00 319.06 832.76 320.27 848.62 320.27H860.82C876.68 320.27 879.44 320.03 895.30 320.03H907.50C923.36 320.03 926.12 319.79 941.98 319.79H954.18V320.40H941.98C926.12 320.40 923.36 320.76 907.50 320.76H895.30C879.44 320.76 876.68 320.76 860.82 320.76H848.62C832.76 320.76 830.00 319.91 814.14 319.91H801.94C786.08 319.91 783.32 319.91 767.46 319.91H755.26C739.40 319.91 736.64 320.64 720.78 320.64H708.58C692.72 320.64 689.96 319.18 674.10 319.18H661.90Z" fill="#7f7f7f" fill-opacity="0.7" stroke="#7f7f7f" stroke-opacity="1" stroke-width="1.1" stroke-linejoin="round"/>
<path d="M661.90 319.18H674.10C689.96 319.18 692.72 320.64 708.58 320.64H720.78C736.64 320.64 739.40 320.52 755.26 320.52H767.46C783.32 320.52 786.08 320.52 801.94 320.52H814.14C830.00 320.52 832.76 321.12 848.62 321.12H860.82C876.68 321.12 879.44 317.61 895.30 317.61H907.50C923.36 317.61 926.12 320.40 941.98 320.40H954.18V320.88H941.98C926.12 320.88 923.36 320.03 907.50 320.03H895.30C879.44 320.03 876.68 321.49 860.82 321.49H848.62C832.76 321.49 830.00 321.00 814.14 321.00H801.94C786.08 321.00 783.32 321.00 767.46 321.00H755.26C739.40 321.00 736.64 321.12 720.78 321.12H708.58C692.72 321.12 689.96 320.03 674.10 320.03H661.90Z" fill="#bcbd2a" fill-opacity="0.7" stroke="#bcbd2a" stroke-opacity="1" stroke-width="1.1" stroke-linejoin="round"/>
<path d="M661.90 320.76H674.10C689.96 320.76 692.72 317.49 708.58 317.49H720.78C736.64 317.49 739.40 321.00 755.26 321.00H767.46C783.32 321.00 786.08 321.00 801.94 321.00H814.14C830.00 321.00 832.76 321.49 848.62 321.49H860.82C876.68 321.49 879.44 321.24 895.30 321.24H907.50C923.36 321.24 926.12 321.49 941.98 321.49H954.18V321.73H941.98C926.12 321.73 923.36 321.61 907.50 321.61H895.30C879.44 321.61 876.68 321.73 860.82 321.73H848.62C832.76 321.73 830.00 321.49 814.14 321.49H801.94C786.08 321.49 783.32 321.49 767.46 321.49H755.26C739.40 321.49 736.64 319.91 720.78 319.91H708.58C692.72 319.91 689.96 321.24 674.10 321.24H661.90Z" fill="#19bdd0" fill-opacity="0.7" stroke="#19bdd0" stroke-opacity="1" stroke-width="1.1" stroke-linejoin="round"/>
<path d="M661.90 321.24H674.10C689.96 321.24 692.72 316.27 708.58 316.27H720.78C736.64 316.27 739.40 321.49 755.26 321.49H767.46C783.32 321.49 786.08 321.49 801.94 321.49H814.14C830.00 321.49 832.76 321.73 848.62 321.73H860.82C876.68 321.73 879.44 321.61 895.30 321.61H907.50C923.36 321.61 926.12 321.73 941.98 321.73H954.18V321.85H941.98C926.12 321.85 923.36 321.85 907.50 321.85H895.30C879.44 321.85 876.68 321.85 860.82 321.85H848.62C832.76 321.85 830.00 321.85 814.14 321.85H801.94C786.08 321.85 783.32 321.85 767.46 321.85H755.26C739.40 321.85 736.64 317.49 720.78 317.49H708.58C692.72 317.49 689.96 321.61 674.10 321.61H661.90Z" fill="#aec7e8" fill-opacity="0.7" stroke="#aec7e8" stroke-opacity="1" stroke-width="1.1" stroke-linejoin="round"/>
<path d="M661.90 304.64H674.10C689.96 304.64 692.72 311.43 708.58 311.43H720.78C736.64 311.43 739.40 313.49 755.26 313.49H767.46C783.32 313.49 786.08 314.21 801.94 314.21H814.14C830.00 314.21 832.76 318.82 848.62 318.82H860.82C876.68 318.82 879.44 312.76 895.30 312.76H907.50C923.36 312.76 926.12 315.79 941.98 315.79H954.18V319.79H941.98C926.12 319.79 923.36 317.61 907.50 317.61H895.30C879.44 317.61 876.68 320.27 860.82 320.27H848.62C832.76 320.27 830.00 319.06 814.14 319.06H801.94C786.08 319.06 783.32 319.06 767.46 319.06H755.26C739.40 319.06 736.64 316.27 720.78 316.27H708.58C692.72 316.27 689.96 311.79 674.10 311.79H661.90Z" fill="#bebebe" fill-opacity="0.7" stroke="#bebebe" stroke-opacity="1" stroke-width="1.1" stroke-linejoin="round"/>
<path d="M654.05 54.4V187.6M654.05 194.4V327.75H962.2" fill="none" stroke="#262626" stroke-width="1.8"/>
<path d="M650.3 60.60H654" stroke="#262626" stroke-width="1.5"/>
<text x="647.9" y="64.6" font-size="11.1" text-anchor="end" font-weight="normal" fill="#454545" stroke="#454545" stroke-width="0.25">1.00</text>
<path d="M650.3 90.91H654" stroke="#262626" stroke-width="1.5"/>
<text x="647.9" y="94.91" font-size="11.1" text-anchor="end" font-weight="normal" fill="#454545" stroke="#454545" stroke-width="0.25">0.75</text>
<path d="M650.3 121.22H654" stroke="#262626" stroke-width="1.5"/>
<text x="647.9" y="125.22" font-size="11.1" text-anchor="end" font-weight="normal" fill="#454545" stroke="#454545" stroke-width="0.25">0.50</text>
<path d="M650.3 151.54H654" stroke="#262626" stroke-width="1.5"/>
<text x="647.9" y="155.54" font-size="11.1" text-anchor="end" font-weight="normal" fill="#454545" stroke="#454545" stroke-width="0.25">0.25</text>
<path d="M650.3 181.85H654" stroke="#262626" stroke-width="1.5"/>
<text x="647.9" y="185.85" font-size="11.1" text-anchor="end" font-weight="normal" fill="#454545" stroke="#454545" stroke-width="0.25">0.00</text>
<path d="M650.3 200.65H654" stroke="#262626" stroke-width="1.5"/>
<text x="647.9" y="204.65" font-size="11.1" text-anchor="end" font-weight="normal" fill="#454545" stroke="#454545" stroke-width="0.25">1.00</text>
<path d="M650.3 230.95H654" stroke="#262626" stroke-width="1.5"/>
<text x="647.9" y="234.95" font-size="11.1" text-anchor="end" font-weight="normal" fill="#454545" stroke="#454545" stroke-width="0.25">0.75</text>
<path d="M650.3 261.25H654" stroke="#262626" stroke-width="1.5"/>
<text x="647.9" y="265.25" font-size="11.1" text-anchor="end" font-weight="normal" fill="#454545" stroke="#454545" stroke-width="0.25">0.50</text>
<path d="M650.3 291.55H654" stroke="#262626" stroke-width="1.5"/>
<text x="647.9" y="295.55" font-size="11.1" text-anchor="end" font-weight="normal" fill="#454545" stroke="#454545" stroke-width="0.25">0.25</text>
<path d="M650.3 321.85H654" stroke="#262626" stroke-width="1.5"/>
<text x="647.9" y="325.85" font-size="11.1" text-anchor="end" font-weight="normal" fill="#454545" stroke="#454545" stroke-width="0.25">0.00</text>
<path d="M668.00 327.8V331.6" stroke="#262626" stroke-width="1.5"/>
<text x="668.0" y="341.7" font-size="11.1" text-anchor="middle" font-weight="normal" fill="#454545" stroke="#454545" stroke-width="0.25">0</text>
<path d="M714.68 327.8V331.6" stroke="#262626" stroke-width="1.5"/>
<text x="714.68" y="341.7" font-size="11.1" text-anchor="middle" font-weight="normal" fill="#454545" stroke="#454545" stroke-width="0.25">1</text>
<path d="M761.36 327.8V331.6" stroke="#262626" stroke-width="1.5"/>
<text x="761.36" y="341.7" font-size="11.1" text-anchor="middle" font-weight="normal" fill="#454545" stroke="#454545" stroke-width="0.25">2</text>
<path d="M808.04 327.8V331.6" stroke="#262626" stroke-width="1.5"/>
<text x="808.04" y="341.7" font-size="11.1" text-anchor="middle" font-weight="normal" fill="#454545" stroke="#454545" stroke-width="0.25">3</text>
<path d="M854.72 327.8V331.6" stroke="#262626" stroke-width="1.5"/>
<text x="854.72" y="341.7" font-size="11.1" text-anchor="middle" font-weight="normal" fill="#454545" stroke="#454545" stroke-width="0.25">4</text>
<path d="M901.40 327.8V331.6" stroke="#262626" stroke-width="1.5"/>
<text x="901.4" y="341.7" font-size="11.1" text-anchor="middle" font-weight="normal" fill="#454545" stroke="#454545" stroke-width="0.25">5</text>
<path d="M948.08 327.8V331.6" stroke="#262626" stroke-width="1.5"/>
<text x="948.08" y="341.7" font-size="11.1" text-anchor="middle" font-weight="normal" fill="#454545" stroke="#454545" stroke-width="0.25">6</text>
<text x="808" y="357.0" font-size="13.8" text-anchor="middle" font-weight="normal" fill="#000" stroke="#000" stroke-width="0.25">Time point</text>
<text x="617.8" y="191.5" font-size="13.8" text-anchor="middle" font-weight="normal" fill="#000" stroke="#000" stroke-width="0.25" transform="rotate(-90 617.8 191.5)">Relative abundance</text>
<rect x="962.9" y="55.1" width="19.3" height="131.75" fill="#fff" stroke="#111" stroke-width="1.7"/>
<text x="968.8" y="120.975" font-size="10.8" text-anchor="middle" font-weight="normal" fill="#1a1a1a" stroke="#1a1a1a" stroke-width="0.25" transform="rotate(90 968.8 120.975)">HEU</text>
<rect x="962.9" y="195.4" width="19.3" height="131.75" fill="#fff" stroke="#111" stroke-width="1.7"/>
<text x="968.8" y="261.275" font-size="10.8" text-anchor="middle" font-weight="normal" fill="#1a1a1a" stroke="#1a1a1a" stroke-width="0.25" transform="rotate(90 968.8 261.275)">HUU</text>
</g>
<g id="legend">
<text x="794.8" y="429.5" font-size="11.6" text-anchor="middle" font-weight="normal" fill="#000" stroke="#000" stroke-width="0.25">Genus</text>
<rect x="596.7" y="444.2" width="16.2" height="15.8" fill="#1f77b4"/>
<text x="619.4" y="455.4" font-size="9.12" text-anchor="start" font-weight="normal" fill="#0d0d0d" stroke="#0d0d0d" stroke-width="0.25">Dolosigranulum</text>
<rect x="596.7" y="462.0" width="16.2" height="15.8" fill="#f67f20"/>
<text x="619.4" y="473.2" font-size="9.12" text-anchor="start" font-weight="normal" fill="#0d0d0d" stroke="#0d0d0d" stroke-width="0.25">Streptococcus</text>
<rect x="596.7" y="479.9" width="16.2" height="15.8" fill="#2ea04a"/>
<text x="619.4" y="491.1" font-size="9.12" text-anchor="start" font-weight="normal" fill="#0d0d0d" stroke="#0d0d0d" stroke-width="0.25">Moraxella</text>
<rect x="697.0" y="444.2" width="16.2" height="15.8" fill="#d62728"/>
<text x="719.7" y="455.4" font-size="9.12" text-anchor="start" font-weight="normal" fill="#0d0d0d" stroke="#0d0d0d" stroke-width="0.25">Staphylococcus</text>
<rect x="697.0" y="462.0" width="16.2" height="15.8" fill="#9267b3"/>
<text x="719.7" y="473.2" font-size="9.12" text-anchor="start" font-weight="normal" fill="#0d0d0d" stroke="#0d0d0d" stroke-width="0.25">Corynebacterium</text>
<rect x="697.0" y="479.9" width="16.2" height="15.8" fill="#8c564b"/>
<text x="719.7" y="491.1" font-size="9.12" text-anchor="start" font-weight="normal" fill="#0d0d0d" stroke="#0d0d0d" stroke-width="0.25">Haemophilus</text>
<rect x="804.7" y="444.2" width="16.2" height="15.8" fill="#df77b8"/>
<text x="827.4" y="455.4" font-size="9.12" text-anchor="start" font-weight="normal" fill="#0d0d0d" stroke="#0d0d0d" stroke-width="0.25">Anaerobacillus</text>
<rect x="804.7" y="462.0" width="16.2" height="15.8" fill="#7f7f7f"/>
<text x="827.4" y="473.2" font-size="9.12" text-anchor="start" font-weight="normal" fill="#0d0d0d" stroke="#0d0d0d" stroke-width="0.25">Paracoccus</text>
<rect x="804.7" y="479.9" width="16.2" height="15.8" fill="#bcbd2a"/>
<text x="827.4" y="491.1" font-size="9.12" text-anchor="start" font-weight="normal" fill="#0d0d0d" stroke="#0d0d0d" stroke-width="0.25">Acinetobacter</text>
<rect x="900.1" y="444.2" width="16.2" height="15.8" fill="#19bdd0"/>
<text x="922.8" y="455.4" font-size="9.12" text-anchor="start" font-weight="normal" fill="#0d0d0d" stroke="#0d0d0d" stroke-width="0.25">Pseudomonas</text>
<rect x="900.1" y="462.0" width="16.2" height="15.8" fill="#aec7e8"/>
<text x="922.8" y="473.2" font-size="9.12" text-anchor="start" font-weight="normal" fill="#0d0d0d" stroke="#0d0d0d" stroke-width="0.25">Alkalihalophilus</text>
<rect x="900.1" y="479.9" width="16.2" height="15.8" fill="#bebebe"/>
<text x="922.8" y="491.1" font-size="9.12" text-anchor="start" font-weight="normal" fill="#0d0d0d" stroke="#0d0d0d" stroke-width="0.25">Other</text>
<rect x="589" y="471.5" width="0.7" height="1.6" fill="#bbb"/>
</g>
</svg>
</body>
</html>
